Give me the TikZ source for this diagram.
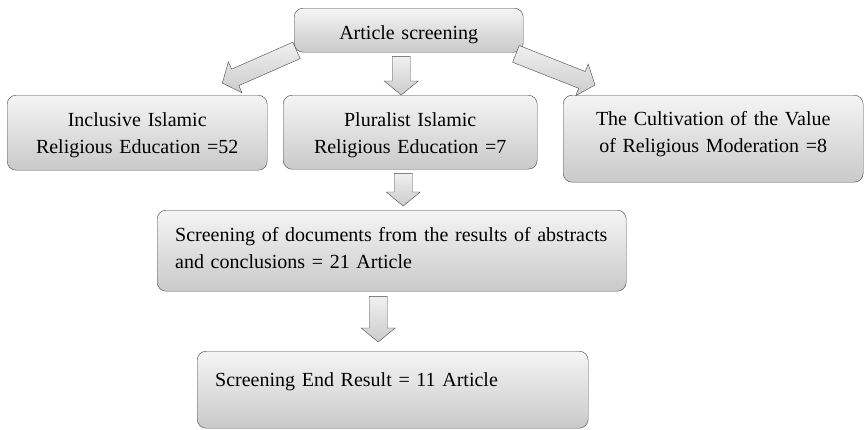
\documentclass[tikz,border=0pt]{standalone}
\usepackage{fontspec}
\setmainfont{Liberation Serif}
\usetikzlibrary{calc}

\begin{document}
\begin{tikzpicture}
[
    x=1pt, y=-1pt,
    box/.style={draw=gray!55!black, rounded corners=9pt, top color=gray!8, bottom color=gray!42,
        inner xsep=6pt, inner ysep=0pt, anchor=north west, font=\fontsize{20}{27.5}\selectfont},
    fat/.style={draw=gray!55!black, top color=gray!12, bottom color=gray!40, to path={
        ($(\tikztostart)!9pt!90:(\tikztotarget)$)
        -- ($(\tikztotarget)!14pt!(\tikztostart)!9pt!-90:(\tikztostart)$)
        -- ($(\tikztotarget)!14pt!(\tikztostart)!17pt!-90:(\tikztostart)$)
        -- (\tikztotarget)
        -- ($(\tikztotarget)!14pt!(\tikztostart)!17pt!90:(\tikztostart)$)
        -- ($(\tikztotarget)!14pt!(\tikztostart)!9pt!90:(\tikztostart)$)
        -- ($(\tikztostart)!9pt!-90:(\tikztotarget)$) -- cycle}},
]
\useasboundingbox (0,0) rectangle (864,429);

\node [box, text width=217pt, align=center, text height=31pt, text depth=13pt] (top) at (294,8)
{Article screening};
\node [box, text width=248pt, align=center, text height=31pt, text depth=44pt] (incl) at (7,95)
{Inclusive Islamic\\Religious Education =52};
\node [box, text width=242pt, align=center, text height=31pt, text depth=43pt] (plural) at (283,95)
{Pluralist Islamic\\Religious Education =7};
\node [box, text width=288pt, align=center, text height=30pt, text depth=57pt] (cult) at (563,95)
{The Cultivation of the Value\\of Religious Moderation =8};
\node [box, inner xsep=18pt, text width=433pt, align=left, text height=31pt, text depth=50pt] (docs) at (157,210)
{Screening of documents from the results of abstracts\\and conclusions = 21 Article};
\node [box, inner xsep=18pt, text width=355pt, align=left, text height=35pt, text depth=42pt] (end) at (197,351)
{Screening End Result = 11 Article};

% arrow ends
\coordinate (a1s) at ($(top.south)+(-7.5,4)$);
\coordinate (a1e) at ($(plural.north)+(-9,0)$);
\coordinate (a2s) at ($(top.south west)+(2.5,-2)$);
\coordinate (a2e) at ($(incl.north east)+(-45,-12)$);
\coordinate (a3s) at ($(top.south east)+(-7.5,1.5)$);
\coordinate (a3e) at ($(cult.north west)+(32,-10)$);
\coordinate (a4s) at ($(plural.south)+(-7,4)$);
\coordinate (a4e) at ($(docs.north)+(11.5,-4)$);
\coordinate (a5s) at ($(docs.south)+(-13.5,5)$);
\coordinate (a5e) at ($(end.north)+(-14.5,-9)$);

\draw [fat] (a1s) to (a1e);
\draw [fat] (a2s) to (a2e);
\draw [fat] (a3s) to (a3e);
\draw [fat] (a4s) to (a4e);
\draw [fat] (a5s) to (a5e);
\end{tikzpicture}
\end{document}
